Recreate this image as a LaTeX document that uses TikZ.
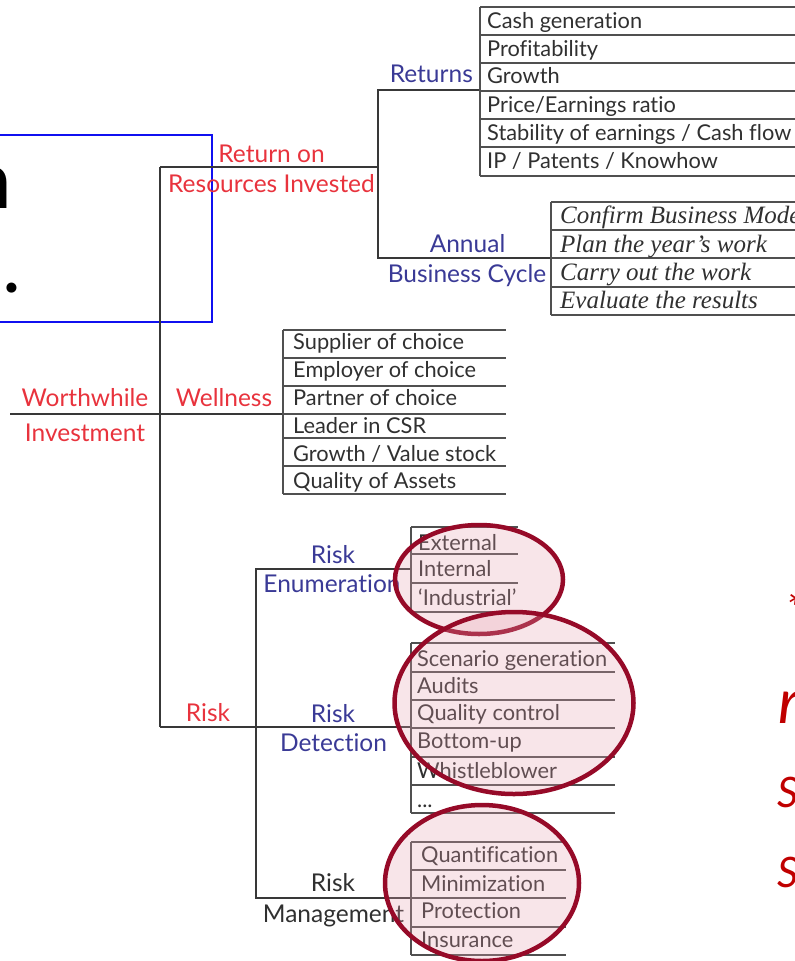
\documentclass[tikz,border=0pt]{standalone}
\usepackage{fontspec}
\setmainfont{Lato}[Ligatures={NoCommon,NoContextual}]
\newfontfamily\itemserif{Liberation Serif}
\usetikzlibrary{shapes.geometric}
\definecolor{treeline}{HTML}{383838}
\definecolor{ruleline}{HTML}{505050}
\definecolor{itemtext}{HTML}{303030}
\definecolor{headred}{HTML}{E8333D}
\definecolor{headblue}{HTML}{3A3A96}
\definecolor{ringred}{HTML}{960A28}
\definecolor{ringfill}{HTML}{E6A0AF}
\definecolor{frameblue}{HTML}{1010F0}
\definecolor{notered}{HTML}{C00000}
\begin{document}
\begin{tikzpicture}[x=1pt,y=-1pt,
  branch/.style={draw=treeline,line width=2.8pt},
  rowrule/.style={draw=ruleline,line width=1.4pt},
  item/.style={anchor=base west,inner sep=0pt,text=itemtext,font=\fontsize{21.8}{24}\selectfont},
  italicitem/.style={item,font=\itemserif\itshape\fontsize{25}{28}\selectfont},
  redhead/.style={anchor=base,inner sep=0pt,text=headred,font=\fontsize{24.5}{28}\selectfont},
  bluehead/.style={redhead,text=headblue},
  grayhead/.style={redhead,text=itemtext},
  ring/.style={ellipse,draw=ringred,line width=4.5pt,fill=ringfill,fill opacity=0.27,inner sep=0pt},
  note/.style={inner sep=0pt,text=notered,font=\itshape\fontsize{42}{48}\selectfont},
]
\useasboundingbox (0,0) rectangle (795,961);
\clip (0,0) rectangle (795,961);

% ---- title fragments and frame on the left ----
\node[anchor=base east,inner sep=0pt,font=\fontsize{80}{90}\selectfont] (titleA) at (12,208) {n};
\node[anchor=base west,inner sep=0pt,font=\fontsize{80}{90}\selectfont] (titleB) at (2,292) {.};
\node[draw=frameblue,line width=1.5pt,inner sep=0pt,minimum width=216pt,minimum height=187pt,anchor=north west] (titleframe) at (-5,134) {};

% ---- junction points of the tree ----
\coordinate (root)     at (10,414);
\coordinate (trunkTop) at (160,167);
\coordinate (trunkBot) at (160,727);
\coordinate (wellEnd)  at (283,414);
\coordinate (retJ)     at (378,167);
\coordinate (retTop)   at (378,90);
\coordinate (retEnd)   at (480,90);
\coordinate (annJ)     at (378,258);
\coordinate (annEnd)   at (551,258);
\coordinate (riskJ)    at (256,727);
\coordinate (riskEnd)  at (411,727);
\coordinate (enumJ)    at (256,569);
\coordinate (enumEnd)  at (411,569);
\coordinate (mgmtJ)    at (256,898);
\coordinate (mgmtEnd)  at (411,898);

% ---- tree branches ----
\draw[branch] (root) -- (wellEnd);
\draw[branch] (trunkTop) -- (trunkBot);
\draw[branch] (trunkTop) -- (retJ);
\draw[branch] (retEnd) -- (retTop) -- (annJ) -- (annEnd);
\draw[branch] (trunkBot) -- (riskEnd);
\draw[branch] (enumEnd) -- (enumJ) -- (mgmtJ) -- (mgmtEnd);

% ---- branch headings ----
\node[redhead] (worth)  at (85,406)    {Worthwhile};
\node[redhead] (invest) at (85,441)    {Investment};
\node[redhead] (roiA)   at (271.5,162) {Return on};
\node[redhead] (roiB)   at (271.5,192) {Resources Invested};
\node[redhead] (well)   at (224,406)   {Wellness};
\node[redhead] (risk)   at (208,721)   {Risk};
\node[bluehead,anchor=base east] (returns) at (473,82) {Returns};
\node[bluehead] (annA)  at (467.5,252) {Annual};
\node[bluehead] (annB)  at (467,282)   {Business Cycle};
\node[bluehead] (enumA) at (333,563)   {Risk};
\node[bluehead] (enumB) at (332,592)   {Enumeration};
\node[bluehead] (detA)  at (333,722)   {Risk};
\node[bluehead] (detB)  at (333.5,751) {Detection};
\node[grayhead] (mgmtA) at (333,891)   {Risk};
\node[grayhead] (mgmtB) at (333.5,922) {Management};

% ---- Returns list ----
\draw[rowrule] (480,7) -- (480,176);
\foreach \y in {7,35,63,91,119,147,176} \draw[rowrule] (480,\y) -- (800,\y);
\node[item] (r1) at (487,28)  {Cash generation};
\node[item] (r2) at (487,56)  {Profitability};
\node[item] (r3) at (487,83)  {Growth};
\node[item] (r4) at (487,112) {Price/Earnings ratio};
\node[item] (r5) at (487,140) {Stability of earnings / Cash flow};
\node[item] (r6) at (487,168) {IP / Patents / Knowhow};

% ---- Annual business cycle list ----
\draw[rowrule] (551,202) -- (551,315);
\foreach \y in {202,230,258,287,315} \draw[rowrule] (551,\y) -- (800,\y);
\node[italicitem] (a1) at (560,223) {Confirm Business Model};
\node[italicitem] (a2) at (560,252) {Plan the year’s work};
\node[italicitem] (a3) at (560,280) {Carry out the work};
\node[italicitem] (a4) at (560,308) {Evaluate the results};

% ---- Wellness list ----
\draw[rowrule] (283,330) -- (283,494);
\foreach \y in {330,358,386,414,438,466,494} \draw[rowrule] (283,\y) -- (506,\y);
\node[item] (w1) at (293,349) {Supplier of choice};
\node[item] (w2) at (293,377) {Employer of choice};
\node[item] (w3) at (293,405) {Partner of choice};
\node[item] (w4) at (293,433) {Leader in CSR};
\node[item] (w5) at (293,461) {Growth / Value stock};
\node[item] (w6) at (293,488) {Quality of Assets};

% ---- Risk enumeration list ----
\draw[rowrule] (411,527) -- (411,612);
\foreach \y in {527,554,583,612} \draw[rowrule] (411,\y) -- (518,\y);
\node[item] (e1) at (418,550) {External};
\node[item] (e2) at (418,576) {Internal};
\node[item] (e3) at (418,605) {‘Industrial’};

% ---- Risk detection list ----
\draw[rowrule] (411,643) -- (411,813);
\foreach \y in {643,672,700,728,757,785,813} \draw[rowrule] (411,\y) -- (615,\y);
\node[item] (d1) at (417,666) {Scenario generation};
\node[item] (d2) at (417,693) {Audits};
\node[item] (d3) at (417,720) {Quality control};
\node[item] (d4) at (417,748) {Bottom-up};
\node[item] (d5) at (417,778) {Whistleblower};
\node[item] (d6) at (417,807) {...};

% ---- Risk management list ----
\draw[rowrule] (411,842) -- (411,955);
\foreach \y in {842,870,898,927,955} \draw[rowrule] (411,\y) -- (566,\y);
\node[item] (m1) at (421,862) {Quantification};
\node[item] (m2) at (421,891) {Minimization};
\node[item] (m3) at (421,918) {Protection};
\node[item] (m4) at (421,947) {Insurance};

% ---- highlight rings ----
\node[ring,minimum width=168pt,minimum height=109pt] (ringEnum) at (479,579.5) {};
\node[ring,minimum width=239pt,minimum height=182pt] (ringDet)  at (514,703)   {};
\node[ring,minimum width=194pt,minimum height=156pt] (ringMgmt) at (482,883)   {};

% ---- side notes on the right ----
\node[note,anchor=north west] (n0) at (786,592) {*};
\node[note,anchor=base west,font=\itshape\fontsize{62}{70}\selectfont] (n1) at (778,723) {r};
\node[note,anchor=base west] (n2) at (777,807) {S};
\node[note,anchor=base west] (n3) at (777,887) {S};
\end{tikzpicture}
\end{document}
